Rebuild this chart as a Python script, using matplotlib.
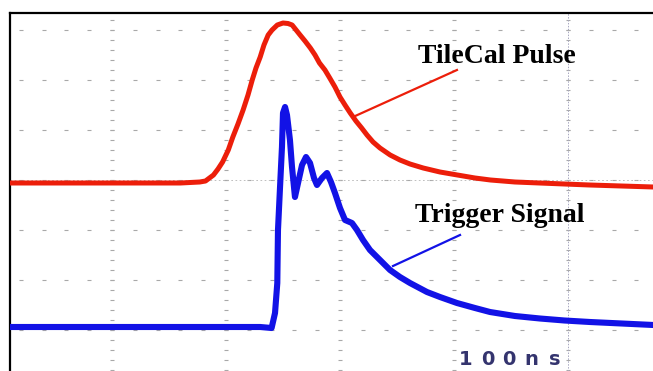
import numpy as np
import matplotlib
matplotlib.use("Agg")
import matplotlib.pyplot as plt

# ---- data (time in ns, amplitude in divisions) ----
red_t = [-290, -210, -140, -123, -118, -111, -107, -103, -98, -94, -89.5, -85, -80.7, -77,
         -73.7, -70, -66.7, -63, -59.6, -55, -50, -45.6, -42, -35, -30.7, -26, -21.9, -18,
         -13.2, -9, -4.4, 0, 4.4, 9, 14, 19, 23.7, 29, 35.1, 44, 52.6, 61.4, 73, 87.7, 103,
         118.4, 132, 153.5, 175, 219, 275]
red_v = [-0.06, -0.06, -0.06, -0.04, -0.02, 0.10, 0.22, 0.36, 0.60, 0.86, 1.12, 1.40, 1.70, 2.00,
         2.24, 2.46, 2.70, 2.90, 3.00, 3.10, 3.14, 3.13, 3.10, 2.90, 2.78, 2.64, 2.50, 2.34,
         2.20, 2.04, 1.86, 1.66, 1.50, 1.34, 1.18, 1.04, 0.90, 0.76, 0.64, 0.50, 0.40, 0.32, 0.24, 0.16, 0.10,
         0.04, 0.0, -0.04, -0.06, -0.10, -0.14]

blue_t = [-290, -211, -123, -70, -60, -57, -55, -54.4, -52.6, -50.9, -50, -48.2, -46.5, -43.9,
          -42.1, -39.5, -36.8, -33.3, -29.8, -26.3, -22.8, -20.2, -15.8, -11.4, -7.9, -4.4, 0,
          4.4, 10.5, 14.9, 20.2, 26.3, 35.1, 43.9, 52.6, 61.4, 76.3, 87.7, 102.6, 118.4, 131.6,
          153.5, 175.4, 197, 219.3, 275]
blue_v = [-2.94, -2.94, -2.94, -2.94, -2.96, -2.66, -2.06, -1.00, -0.14, 0.66, 1.34, 1.46, 1.30, 0.80,
          0.26, -0.34, -0.06, 0.30, 0.46, 0.34, 0.04, -0.10, 0.04, 0.14, -0.04, -0.26, -0.56,
          -0.80, -0.86, -1.00, -1.20, -1.40, -1.60, -1.80, -1.94, -2.06, -2.24, -2.34, -2.46, -2.56, -2.64,
          -2.72, -2.77, -2.81, -2.84, -2.90]

labels = ["TileCal Pulse", "Trigger Signal"]
timebase = "100ns"

RED = "#ec1e0a"
BLUE = "#1212e6"

fig = plt.figure(figsize=(6.53, 3.71), dpi=100)
fig.patch.set_facecolor("white")
ax = fig.add_axes([10 / 653, 0, 643 / 653, 358 / 371])
ax.set_xlim(-289.5, 274.6)
ax.set_ylim(-3.82, 3.34)
ax.set_xticks([])
ax.set_yticks([])
for s in ["right", "bottom"]:
    ax.spines[s].set_visible(False)
for s in ["left", "top"]:
    ax.spines[s].set_linewidth(1.6)
    ax.spines[s].set_color("black")

# ---- graticule ----
gcol = "#a8a8a8"
ys = np.arange(-3.8, 3.4, 0.2)
for gx in [-200, -100, 0, 100, 200]:
    ax.plot(np.full(len(ys), gx), ys, ls="none", marker="_", ms=3, mew=0.8, color=gcol, zorder=1)
xs = np.arange(-280, 275, 20)
for gy in [-3, -2, -1, 0, 1, 2, 3]:
    ax.plot(xs, np.full(len(xs), gy), ls="none", marker="_", ms=3, mew=0.8, color=gcol, zorder=1)
ax.axhline(0, color="#b4b4b4", lw=0.6, ls=(0, (2, 3)), zorder=1)
ax.axvline(200, color="#a8a8c0", lw=0.7, ls=(0, (1.5, 1.5)), zorder=1)

# ---- traces ----
ax.plot(red_t, red_v, color=RED, lw=3.6, solid_joinstyle="round", zorder=3)
ax.plot(blue_t, blue_v, color=BLUE, lw=4.4, solid_joinstyle="round", zorder=3)

# ---- annotations ----
ax.plot([11.4, 102.6], [1.26, 2.2], color=RED, lw=1.6, zorder=4)
ax.plot([46.5, 105.3], [-1.72, -1.1], color=BLUE, lw=1.6, zorder=4)
ax.text(68.4, 2.34, labels[0], family="Liberation Serif", weight="bold", fontsize=20,
        ha="left", va="baseline", color="black", zorder=5)
ax.text(65.8, -0.84, labels[1], family="Liberation Serif", weight="bold", fontsize=20,
        ha="left", va="baseline", color="black", zorder=5)

# timebase label
for ch, cx in zip(timebase, [110.5, 129.5, 148.2, 167.5, 188.6]):
    ax.text(cx, -3.7, ch, family="DejaVu Sans", weight="bold", fontsize=14,
            ha="center", va="baseline", color="#34346e", zorder=5)

fig.savefig("out.png", dpi=100, facecolor="white")
